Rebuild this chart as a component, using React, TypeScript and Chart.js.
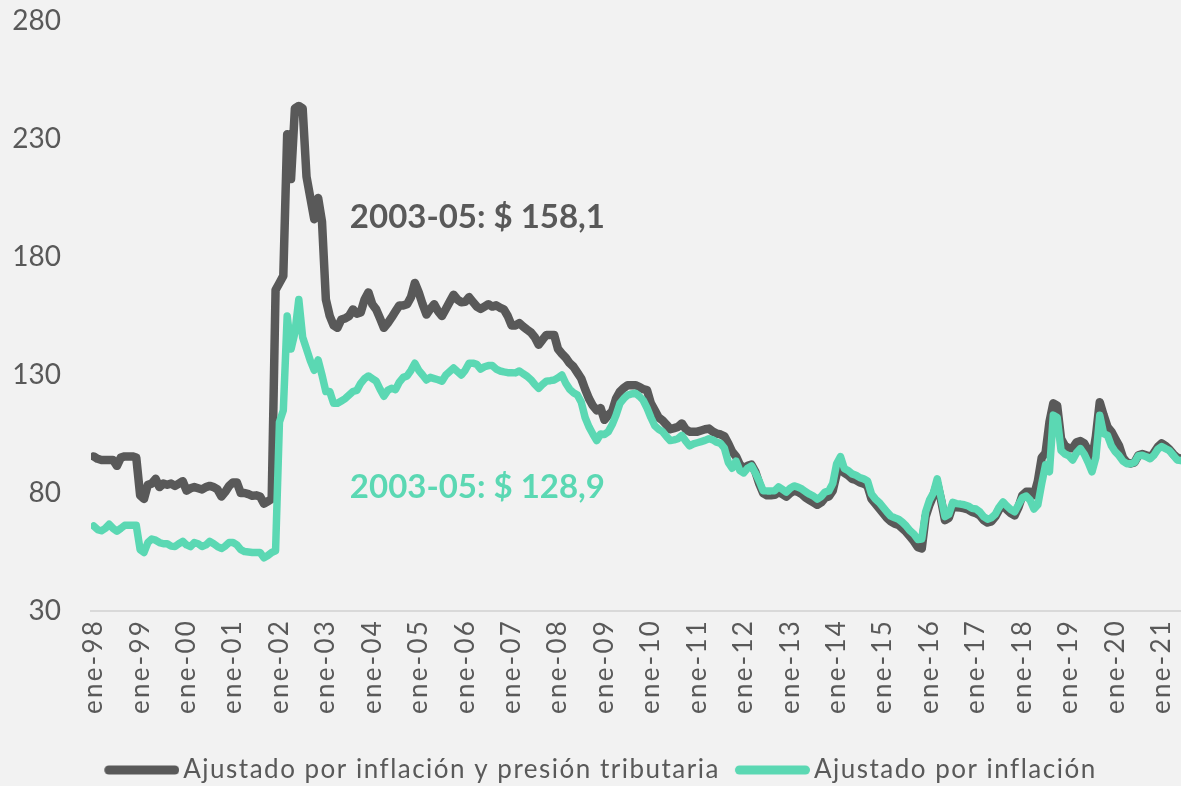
import React, { useEffect, useRef } from "react";
import { Chart, registerables } from "chart.js";

Chart.register(...registerables);

// ---- Data (monthly, ene-98 .. jun-21) ----
const xTickLabels = [
  "ene-98", "ene-99", "ene-00", "ene-01", "ene-02", "ene-03", "ene-04", "ene-05",
  "ene-06", "ene-07", "ene-08", "ene-09", "ene-10", "ene-11", "ene-12", "ene-13",
  "ene-14", "ene-15", "ene-16", "ene-17", "ene-18", "ene-19", "ene-20", "ene-21",
];

const yTickValues = [30, 80, 130, 180, 230, 280];

const seriesNames = [
  "Ajustado por inflación y presión tributaria",
  "Ajustado por inflación",
];

// Ajustado por inflación y presión tributaria
const adjInflTax: number[] = [
  95.5, 94.5, 94, 94, 94, 94, 91.5, 95, 95.5, 95.5, 95.5, 95, // 1998
  79, 77.5, 83.5, 84, 86, 82.5, 84, 83.5, 84, 83, 84, 85, // 1999
  81, 82, 82.5, 82, 81.5, 82.5, 83, 82.5, 81.5, 78.5, 80.5, 83, // 2000
  84.5, 84.5, 80, 80, 79.5, 78.8, 79, 78.5, 75.5, 76.5, 77.5, 166, // 2001
  169, 172, 232, 213, 243, 244, 243, 214, 205, 196, 205, 195, // 2002
  162, 155, 151, 150, 153.5, 154, 155, 157.8, 156, 156.5, 162, 165, // 2003
  160, 157.8, 154, 150, 152, 154.4, 157, 159.5, 159.5, 160, 163, 169, // 2004
  165, 160, 155.6, 158, 160, 157, 155, 158, 161, 164, 162, 160.8, // 2005
  161, 163, 161, 159, 158, 159, 160, 159, 159.5, 158.5, 157.8, 155, // 2006
  151, 151, 152, 150.5, 149.2, 148, 146, 142.8, 145, 147, 147, 147, // 2007
  141, 139, 137.3, 135, 133.5, 131, 128.5, 124, 120, 117, 115, 116, // 2008
  111, 113, 114.6, 120, 123, 124.5, 125.7, 125.7, 125.7, 125, 124, 123.6, // 2009
  118, 115, 112, 110.8, 109, 107, 107.5, 108, 109.5, 107, 106, 106, // 2010
  106, 106.5, 107, 107.3, 106, 105.2, 104.8, 104, 101, 97.5, 95.5, 92, // 2011
  90.5, 91.5, 92, 89, 84, 80, 79, 79, 79.2, 80.5, 79.5, 78.5, // 2012
  80, 81, 80.5, 79.5, 78, 77, 76, 75, 76, 78, 78.5, 81, // 2013
  88, 91, 88.5, 87.5, 86, 85.5, 84.5, 84, 83, 77.5, 75.5, 73.5, // 2014
  71.5, 69.5, 68, 67, 66.5, 65, 63.5, 61.5, 59.5, 57, 56.5, 70, // 2015
  75, 79, 84, 77, 68.5, 69.5, 74.5, 74, 73.8, 73.5, 73, 72, // 2016
  71.5, 70.5, 68.5, 67.5, 68, 70, 73, 75, 73, 71.5, 70.5, 74, // 2017
  79, 80.5, 80.5, 79, 85, 95, 97, 110, 118, 117, 103, 100, // 2018
  99, 99, 101.5, 102, 101, 98, 94, 104, 118.5, 113, 108, 106, // 2019
  103, 100, 95, 93, 92.5, 93, 96, 96.5, 96, 95, 97, 99.5, // 2020
  101, 100, 98.5, 96.5, 95, 94.5, // 2021
];

// Ajustado por inflación
const adjInfl: number[] = [
  66, 64.5, 64, 65, 66.8, 65, 63.8, 65, 66.3, 66.3, 66.3, 66.3, // 1998
  56, 54.8, 59, 60.5, 60, 59, 58.5, 58.5, 57.5, 57.3, 58.5, 59.5, // 1999
  58, 57.3, 59, 58.5, 57.3, 58, 59.5, 58.5, 57.3, 56.5, 57.5, 59, // 2000
  59, 58, 56, 55.2, 55, 54.8, 54.8, 54.8, 52.5, 53.5, 54.8, 55.5, // 2001
  110, 115, 155, 141, 148, 162, 146, 141, 136, 132, 136.4, 130, // 2002
  123, 123, 118, 118, 119, 120, 121.5, 123, 123.5, 126.5, 128.5, 129.6, // 2003
  128.5, 127.4, 124, 121, 123.5, 124.4, 123.8, 127, 129, 129.6, 132, 135, // 2004
  132, 130, 127.9, 129, 128.5, 128, 127.4, 130, 131.5, 133, 131.5, 130, // 2005
  132, 135, 135, 134.5, 132.5, 133.5, 134, 134, 132.5, 131.7, 131.3, 131, // 2006
  131, 130.9, 131.7, 130.5, 129.5, 128, 126, 124.4, 126, 127.4, 127.6, 127.9, // 2007
  128.8, 130, 126.5, 124, 122.5, 121.5, 118.5, 112, 108, 105, 102.2, 105, // 2008
  104.8, 106, 109, 113, 118, 120, 121.5, 122, 122.3, 121, 119.3, 116, // 2009
  112, 108.5, 107, 106, 104, 102.2, 102.5, 103, 104.4, 102, 100, 100.8, // 2010
  101.3, 101.8, 102.3, 103, 102.5, 101.5, 101, 99, 93, 90.5, 93.5, 89.5, // 2011
  88.5, 90.5, 91.5, 88.5, 85, 81, 80.9, 80.9, 81, 82.6, 81.5, 80.4, // 2012
  82, 83, 82.5, 81.7, 80.5, 79.5, 78.7, 77.4, 78.5, 80.4, 80.9, 84, // 2013
  92.4, 95.4, 90.3, 89.5, 88.1, 87.5, 86.5, 86, 85.1, 79.6, 77.5, 76, // 2014
  74, 72, 70.2, 69.5, 68.9, 67.6, 66, 64, 62.5, 60.3, 60.5, 72, // 2015
  77, 80, 86, 78, 70, 71, 76, 75.5, 75.3, 75, 74.5, 73.5, // 2016
  73.2, 72, 70, 68.9, 69.5, 71, 74, 76.2, 74.5, 73, 72, 75, // 2017
  78, 78.7, 77, 73.2, 75, 84, 92, 89, 113, 112, 98, 96.5, // 2018
  95.8, 94, 97, 98.8, 96.5, 93, 89, 95, 112.9, 105.2, 104.4, 100, // 2019
  97.5, 95.8, 93.5, 92.4, 92.4, 93, 95.8, 96, 95.4, 94.5, 96, 98.5, // 2020
  99.7, 98.8, 98, 96, 94, 93.7, // 2021
];

// Average labels, positioned in data coordinates (month index, value)
const annotationTexts = ["2003-05: $ 158,1", "2003-05: $ 128,9"];
const annotationMonth = [66.2, 66.2];
const annotationValue = [197, 82.6];

const DARK = "#595959";
const TEAL = "#5BD8B3";
const TEXT = "#595959";
const BG = "#F2F2F2";

const LEGEND_BOX = 66; // legend box width reserved before the text

// legend marker: thick round-capped line that runs close to the text
function makeLegendLine(color: string): HTMLCanvasElement {
  const c = document.createElement("canvas");
  const w = LEGEND_BOX + 18;
  c.width = w;
  c.height = 12;
  const g = c.getContext("2d")!;
  g.strokeStyle = color;
  g.lineWidth = 9;
  g.lineCap = "round";
  g.beginPath();
  g.moveTo(9 + 4.5, 6);
  g.lineTo(w - 4.5, 6);
  g.stroke();
  return c;
}

export default function App() {
  const canvasRef = useRef<HTMLCanvasElement | null>(null);

  useEffect(() => {
    document.body.style.margin = "0";
    document.body.style.background = BG;
    const canvas = canvasRef.current;
    if (!canvas) return;

    const annotationColors = [DARK, TEAL];
    const avgLabels = {
      id: "avgLabels",
      afterDatasetsDraw(chart: any) {
        const { ctx, scales } = chart;
        const xs = scales.x;
        const ys = scales.y;
        ctx.save();
        ctx.font = "bold 33px Lato";
        ctx.textBaseline = "middle";
        ctx.textAlign = "left";
        annotationTexts.forEach((t, k) => {
          ctx.fillStyle = annotationColors[k];
          ctx.fillText(t, xs.getPixelForValue(annotationMonth[k]), ys.getPixelForValue(annotationValue[k]));
        });
        ctx.restore();
      },
    };

    // letter spacing for the legend (Excel-like wide text) and a slight right shift
    const legendSpacing = {
      id: "legendSpacing",
      beforeLayout(chart: any) {
        const lg = chart.legend;
        if (lg && !lg._lsWrapped) {
          const origFit = lg.fit.bind(lg);
          const origDraw = lg.draw.bind(lg);
          lg.fit = () => {
            const c = lg.ctx;
            c.save();
            c.letterSpacing = "1.5px";
            origFit();
            c.restore();
          };
          lg.draw = () => {
            const c = lg.ctx;
            const left = lg.left;
            c.save();
            c.letterSpacing = "1.5px";
            lg.left = left + 20;
            origDraw();
            lg.left = left;
            c.restore();
          };
          lg._lsWrapped = true;
        }
      },
    };

    const legendImages = [makeLegendLine(DARK), makeLegendLine(TEAL)];

    const chart = new Chart(canvas, {
      type: "line",
      data: {
        datasets: [
          {
            label: seriesNames[0],
            data: adjInflTax.map((v, i) => ({ x: i, y: v })),
            borderColor: DARK,
            backgroundColor: DARK,
            borderWidth: 8.5,
            pointRadius: 0,
            tension: 0,
            borderJoinStyle: "round",
            borderCapStyle: "round",
            order: 1,
          },
          {
            label: seriesNames[1],
            data: adjInfl.map((v, i) => ({ x: i, y: v })),
            borderColor: TEAL,
            backgroundColor: TEAL,
            borderWidth: 7.5,
            pointRadius: 0,
            tension: 0,
            borderJoinStyle: "round",
            borderCapStyle: "round",
            order: 0,
          },
        ],
      },
      options: {
        responsive: false,
        animation: false,
        devicePixelRatio: 1,
        layout: { padding: { top: 21, right: 0, bottom: -7, left: 0 } },
        scales: {
          x: {
            type: "linear",
            min: -0.7,
            max: adjInfl.length - 1,
            afterBuildTicks: (scale: any) => {
              scale.ticks = xTickLabels.map((_, k) => ({ value: k * 12 }));
            },
            afterFit: (scale: any) => {
              scale.height = 131;
              scale.paddingLeft = 0;
              scale.paddingRight = 0;
              scale.paddingTop = 0;
              scale.paddingBottom = 0;
              if (!scale._lsWrapped) {
                const orig = scale.drawLabels.bind(scale);
                scale.drawLabels = (area: any) => {
                  const c = scale.ctx;
                  c.save();
                  c.letterSpacing = "2.2px";
                  orig(area);
                  c.restore();
                };
                scale._lsWrapped = true;
              }
            },
            grid: { display: false, drawTicks: false },
            border: { display: true, color: "#D9D9D9", width: 2 },
            ticks: {
              autoSkip: false,
              maxRotation: 90,
              minRotation: 90,
              padding: 8,
              color: TEXT,
              font: { family: "Lato", size: 26 },
              callback: (value: any) => xTickLabels[Math.round(Number(value) / 12)] ?? "",
            },
          },
          y: {
            type: "linear",
            min: 30,
            max: 280,
            afterBuildTicks: (scale: any) => {
              scale.ticks = yTickValues.map((v) => ({ value: v }));
            },
            afterFit: (scale: any) => {
              scale.width = 91;
              scale.paddingTop = 0;
              scale.paddingBottom = 0;
              scale.paddingLeft = 0;
              scale.paddingRight = 0;
            },
            grid: { display: false, drawTicks: false },
            border: { display: false },
            ticks: {
              padding: 30,
              color: TEXT,
              font: { family: "Lato", size: 28 },
            },
          },
        },
        plugins: {
          legend: {
            position: "bottom",
            labels: {
              usePointStyle: true,
              pointStyleWidth: LEGEND_BOX,
              padding: 15,
              color: TEXT,
              font: { family: "Lato", size: 26 },
              sort: (a: any, b: any) => a.datasetIndex - b.datasetIndex,
              generateLabels: (chart: any) =>
                chart.data.datasets.map((ds: any, i: number) => ({
                  text: ds.label,
                  fillStyle: ds.borderColor,
                  strokeStyle: ds.borderColor,
                  lineWidth: 0,
                  pointStyle: legendImages[i],
                  hidden: false,
                  datasetIndex: i,
                  fontColor: TEXT,
                })),
            },
          },
          tooltip: { enabled: false },
        },
      },
      plugins: [avgLabels, legendSpacing],
    } as any);

    return () => chart.destroy();
  }, []);

  return (
    <div
      style={{
        position: "absolute",
        left: 0,
        top: 0,
        width: 1181,
        height: 786,
        background: BG,
      }}
    >
      <canvas ref={canvasRef} width={1181} height={786} style={{ width: 1181, height: 786, display: "block" }} />
    </div>
  );
}
